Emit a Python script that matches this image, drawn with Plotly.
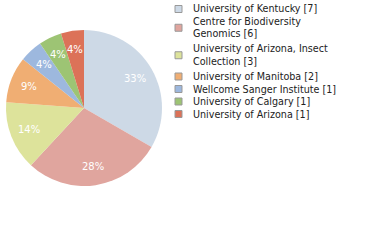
import math
import plotly.graph_objects as go

labels = ["University of Kentucky", "Centre for Biodiversity Genomics",
          "University of Arizona, Insect Collection", "University of Manitoba",
          "Wellcome Sanger Institute", "University of Calgary", "University of Arizona"]
legend_lines = [["University of Kentucky [7]"],
                ["Centre for Biodiversity", "Genomics [6]"],
                ["University of Arizona, Insect", "Collection [3]"],
                ["University of Manitoba [2]"],
                ["Wellcome Sanger Institute [1]"],
                ["University of Calgary [1]"],
                ["University of Arizona [1]"]]
values = [7, 6, 3, 2, 1, 1, 1]
colors = ["#cdd9e6", "#e0a59e", "#dde39b", "#f0ae73", "#9db8de", "#9dc474", "#dc7258"]

W, H = 380, 240
total = sum(values)
pct_text = [f"{int(v * 100 // total)}%" for v in values]

cx, cy, R = 84, 108, 78
fig = go.Figure(go.Pie(
    labels=labels, values=values, textinfo="none",
    sort=False, direction="clockwise", rotation=0,
    marker=dict(colors=colors, line=dict(width=0)),
    domain=dict(x=[(cx - R) / W, (cx + R) / W], y=[1 - (cy + R) / H, 1 - (cy - R) / H]),
    showlegend=False, hoverinfo="label+value",
))

annotations = []
cum = 0
for v, t in zip(values, pct_text):
    mid = (cum + v / 2) / total * 2 * math.pi
    cum += v
    px = cx + 0.76 * R * math.sin(mid)
    py = cy - 0.76 * R * math.cos(mid)
    annotations.append(dict(x=px / W, y=1 - py / H, xref="paper", yref="paper",
                            text=t, showarrow=False, xanchor="center", yanchor="middle",
                            font=dict(family="DejaVu Sans", size=10, color="white")))

shapes = []
y = 9.0
lh = 12.5
for lines, col in zip(legend_lines, colors):
    ys = []
    for ln in lines:
        annotations.append(dict(x=191 / W, y=1 - y / H, xref="paper", yref="paper",
                                text=ln, showarrow=False, xanchor="left", yanchor="middle",
                                font=dict(family="DejaVu Sans", size=9.6, color="#222222")))
        ys.append(y)
        y += lh
    if len(lines) > 1:
        y += 2.5
    yc = sum(ys) / len(ys)
    shapes.append(dict(type="rect", xref="paper", yref="paper",
                       x0=175 / W, x1=182 / W, y0=1 - (yc - 3.5) / H, y1=1 - (yc + 3.5) / H,
                       fillcolor=col, line=dict(color="#999999", width=1)))

fig.update_layout(width=W, height=H, margin=dict(l=0, r=0, t=0, b=0),
                  paper_bgcolor="white", plot_bgcolor="white",
                  annotations=annotations, shapes=shapes)
fig.write_html("out.html")
